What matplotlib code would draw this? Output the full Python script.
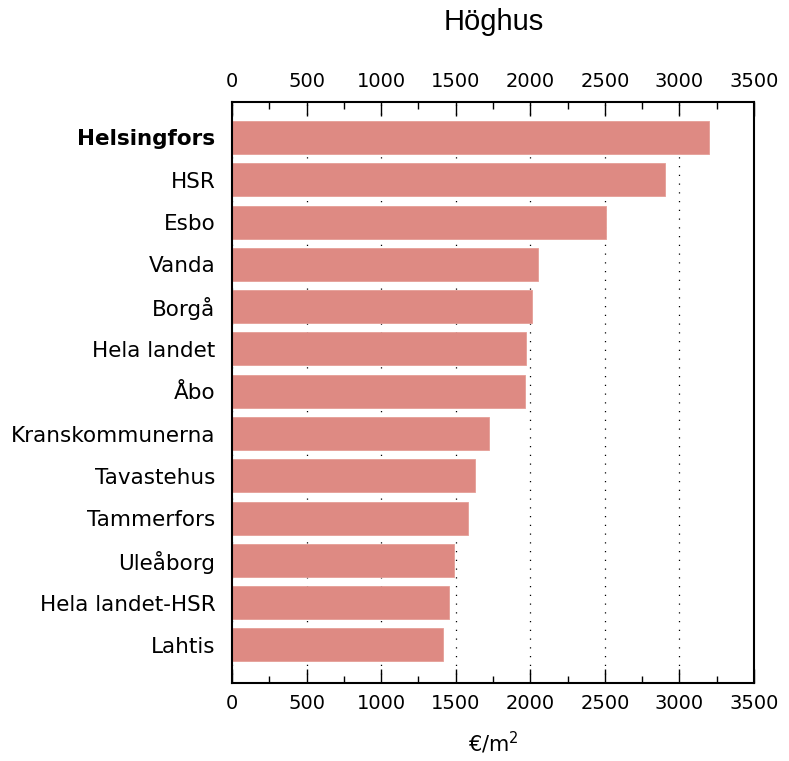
import numpy as np
import matplotlib.pyplot as plt
from matplotlib.ticker import MultipleLocator

# price per square metre, high-rise buildings
regions = ['Helsingfors', 'HSR', 'Esbo', 'Vanda', 'Borgå', 'Hela landet', 'Åbo',
           'Kranskommunerna', 'Tavastehus', 'Tammerfors', 'Uleåborg',
           'Hela landet-HSR', 'Lahtis']
prices = [3197, 2904, 2507, 2049, 2011, 1971, 1966, 1722, 1629, 1580, 1490, 1452, 1414]

plt.rcParams['font.family'] = 'DejaVu Sans'

fig = plt.figure(figsize=(7.89, 7.61), dpi=100)
ax = fig.add_axes([0.294, 0.1025, 0.6617, 0.7635])

y = np.arange(len(regions))
ax.barh(y, prices, height=0.78, color='#de8a83', edgecolor='#e59e97', linewidth=0.6, zorder=2)

ax.set_xlim(0, 3500)
ax.set_ylim(12.9, -0.84)
ax.set_yticks(y)
ax.set_yticklabels(regions, fontsize=15.5)
ax.get_yticklabels()[0].set_fontweight('bold')
ax.tick_params(axis='y', length=0, pad=12)

ax.xaxis.set_major_locator(MultipleLocator(500))
ax.xaxis.set_minor_locator(MultipleLocator(250))
ax.tick_params(axis='x', which='both', direction='in', top=True, bottom=True,
               labeltop=True, labelbottom=True, labelsize=14, pad=8, width=1)
ax.tick_params(axis='x', which='major', length=10)
ax.tick_params(axis='x', which='minor', length=5)

ax.grid(axis='x', which='major', color='black', linestyle=(0, (1, 6)), linewidth=0.9, zorder=1)
ax.set_axisbelow(True)

for s in ax.spines.values():
    s.set_linewidth(1.5)

ax.set_xlabel('€/m$^2$', fontsize=15, labelpad=12)
fig.text(0.626, 0.971, 'Höghus', ha='center', va='center', fontsize=21, family='Liberation Sans')

plt.savefig('out.png', dpi=100)
